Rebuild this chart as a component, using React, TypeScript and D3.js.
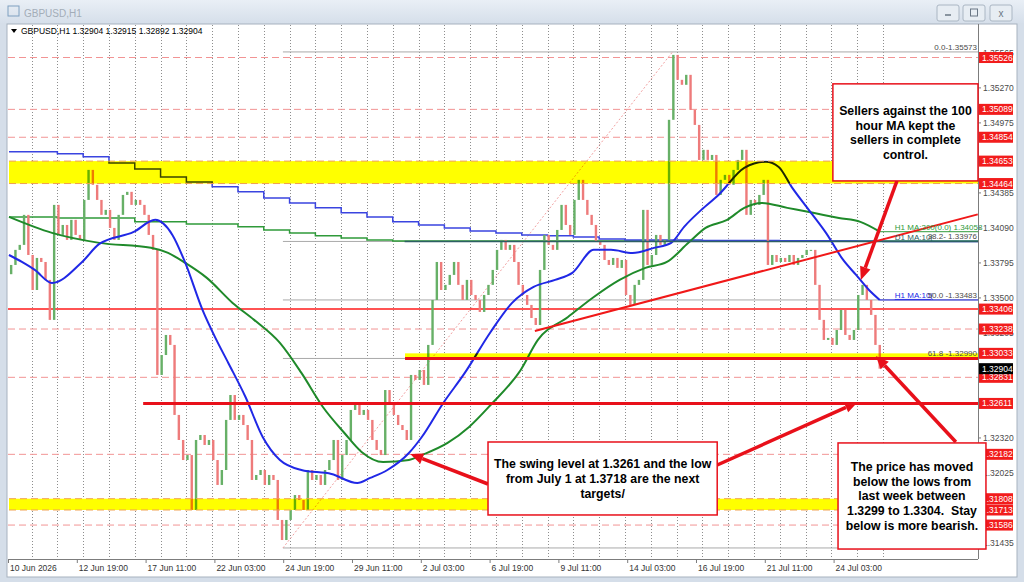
import * as d3 from 'd3'

// 4-hour closes (GBPUSD), first bar 10 Jun 03:00
const closes = [
  1.33778, 1.33905, 1.33947, 1.342, 1.33862, 1.33567, 1.33837, 1.33803, 1.33652, 1.33315,
  1.34284, 1.34031, 1.34115, 1.33989, 1.34158, 1.34031, 1.33989, 1.34326, 1.34579, 1.34453,
  1.34326, 1.342, 1.34242, 1.3409, 1.33989, 1.342, 1.34368, 1.34394, 1.34284, 1.34326,
  1.34284, 1.342, 1.34031, 1.33905, 1.32851, 1.33019, 1.33188, 1.33104, 1.32514, 1.32303,
  1.32134, 1.32176, 1.31713, 1.32303, 1.32345, 1.32261, 1.32303, 1.32134, 1.31924, 1.3205,
  1.32472, 1.32682, 1.32472, 1.32514, 1.32429, 1.32303, 1.31966, 1.32008, 1.3205, 1.31924,
  1.32008, 1.31966, 1.31629, 1.3146, 1.31629, 1.31713, 1.31839, 1.31797, 1.31713, 1.3205,
  1.31966, 1.32008, 1.31924, 1.3205, 1.32134, 1.32303, 1.31966, 1.32176, 1.32303, 1.32556,
  1.32598, 1.32514, 1.32556, 1.32472, 1.32303, 1.32219, 1.32176, 1.32724, 1.32598, 1.32514,
  1.32429, 1.32387, 1.32303, 1.32851, 1.32809, 1.32893, 1.32767, 1.33104, 1.33483, 1.33803,
  1.33567, 1.3361, 1.33694, 1.33803, 1.3361, 1.33483, 1.33652, 1.33525, 1.33483, 1.33382,
  1.33525, 1.3361, 1.33736, 1.33905, 1.33989, 1.33905, 1.33947, 1.33803, 1.3361, 1.33525,
  1.33441, 1.33331, 1.33272, 1.33736, 1.34031, 1.33947, 1.33905, 1.34073, 1.34284, 1.34115,
  1.34031, 1.34326, 1.34495, 1.34326, 1.342, 1.34115, 1.33972, 1.33947, 1.3382, 1.33778,
  1.33837, 1.33753, 1.3382, 1.33525, 1.33441, 1.3361, 1.33652, 1.34242, 1.33778, 1.33862,
  1.34031, 1.33947, 1.33989, 1.35001, 1.35548, 1.35338, 1.35296, 1.3538, 1.35085, 1.34958,
  1.34663, 1.34748, 1.34663, 1.34705, 1.34368, 1.34495, 1.34537, 1.34453, 1.34579, 1.34663,
  1.34748, 1.342, 1.34326, 1.34284, 1.34368, 1.34495, 1.33778, 1.33862, 1.33803, 1.33837,
  1.33803, 1.33862, 1.33778, 1.33837, 1.33862, 1.33905, 1.33905, 1.3361, 1.33315, 1.33146,
  1.33163, 1.33104, 1.3323, 1.33399, 1.33188, 1.33146, 1.3323, 1.33525, 1.3361, 1.33483,
  1.33357, 1.33104, 1.32904,
]
const firstOpen = 1.3370

// [bar, value] samples of the hourly moving averages
const h1Ma100: [number, number][] = [
  [0, 1.33862], [3, 1.33803], [6, 1.33736], [10, 1.33626], [17, 1.33803], [21, 1.33955],
  [29, 1.34056], [34, 1.34158], [38, 1.34031], [41, 1.33795], [45, 1.33399], [48, 1.33163],
  [51, 1.32952], [55, 1.32665], [59, 1.32328], [63, 1.32134], [68, 1.3205], [75, 1.32016],
  [81, 1.3194], [84, 1.31983], [88, 1.3205], [93, 1.32193], [96, 1.32328], [101, 1.32615],
  [106, 1.32868], [112, 1.33213], [117, 1.33458], [122, 1.33593], [127, 1.33652], [131, 1.33711],
  [136, 1.33905], [140, 1.33905], [145, 1.33879], [150, 1.33922], [154, 1.33964], [157, 1.34099],
  [161, 1.34242], [165, 1.34368], [171, 1.34596], [176, 1.34647], [179, 1.34604], [182, 1.34436],
  [186, 1.34242], [190, 1.34048], [194, 1.3382], [197, 1.33694], [200, 1.33567], [202.5, 1.33483],
]
const h1Ma200: [number, number][] = [
  [0, 1.34183], [10, 1.34048], [21, 1.33964], [33, 1.33922], [37, 1.33879], [41, 1.33795],
  [46, 1.33669], [52, 1.33458], [57, 1.33315], [63, 1.33121], [68, 1.32868], [73, 1.32581],
  [78, 1.32362], [82, 1.32202], [87, 1.32117], [93, 1.32134], [96, 1.32176], [102, 1.32278],
  [107, 1.32413], [112, 1.32598], [119, 1.32893], [123, 1.33146], [130, 1.3334], [136, 1.33508],
  [142, 1.33652], [148, 1.33753], [153, 1.33803], [158, 1.33964], [162, 1.3409], [167, 1.34158],
  [171, 1.34259], [175, 1.34301], [181, 1.34259], [187, 1.34217], [193, 1.34174], [198, 1.34141],
  [202.5, 1.34058],
]
// daily moving averages, one value per trading day
const d1Ma100 = [
  1.34731, 1.34731, 1.34714, 1.34689, 1.34638, 1.34587, 1.3452, 1.34478, 1.34436, 1.34394,
  1.34343, 1.34301, 1.34259, 1.34217, 1.34183, 1.34141, 1.34115, 1.3409, 1.34065, 1.34048,
  1.34031, 1.34023, 1.34014, 1.33997, 1.33989, 1.33989, 1.33989, 1.33985, 1.33985, 1.33985,
  1.33982, 1.33982, 1.3398, 1.33978, 1.33976,
]
const d1Ma200 = [
  1.34183, 1.34183, 1.34174, 1.34174, 1.34174, 1.34141, 1.34141, 1.34124, 1.34124, 1.34099,
  1.34073, 1.34048, 1.34023, 1.34006, 1.33989, 1.3398, 1.3398, 1.3398, 1.3398, 1.3398,
  1.3398, 1.3398, 1.3398, 1.3398, 1.3398, 1.3398, 1.3398, 1.3398, 1.3398, 1.3398,
  1.3398, 1.3398, 1.3398, 1.3398, 1.3398,
]

const timeLabels = [
  '10 Jun 2026', '12 Jun 19:00', '17 Jun 11:00', '22 Jun 03:00', '24 Jun 19:00', '29 Jun 11:00',
  '2 Jul 03:00', '6 Jul 19:00', '9 Jul 11:00', '14 Jul 03:00', '16 Jul 19:00', '21 Jul 11:00', '24 Jul 03:00',
]
const priceTicks = [
  1.35565, 1.3527, 1.34975, 1.3468, 1.34385, 1.3409, 1.33795, 1.335, 1.33205, 1.3291, 1.32615,
  1.3232, 1.32025, 1.3173, 1.31435,
]
const redLabels = [
  1.35526, 1.35089, 1.34854, 1.34653, 1.34464, 1.33406, 1.33238, 1.33033, 1.32831, 1.32611,
  1.32182, 1.31808, 1.31713, 1.31586,
]
const lastPrice = 1.32904
const dashedLevels = [1.35526, 1.35089, 1.34854, 1.33238, 1.32831, 1.32182, 1.31586]
// [low, high, first bar]
const bands: [number, number, number][] = [
  [1.34464, 1.34653, 0],
  [1.31713, 1.31808, 0],
  [1.3299, 1.33033, 92.1],
]
// [price, first bar]
const thickLevels: [number, number][] = [[1.32611, 31.2], [1.3299, 92.1]]
const thinLevel = 1.33406
const trendLine: [number, number][] = [[122.3, 1.33222], [225.3, 1.34204]]
const fibStart = 63.7
const fibLow = 1.31393
const fibHighBar = 154.3
const fibLevels: [string, number][] = [['0.0', 1.35573], ['38.2', 1.33976], ['50.0', 1.33483], ['61.8', 1.3299], ['100.0', 1.31393]]

// annotation boxes: [bar0, bar1, priceTop, priceBottom], text lines
const notes: { box: [number, number, number, number]; lines: string[] }[] = [
  { box: [191.6, 225.35, 1.35304, 1.34486], lines: ['Sellers against the 100', 'hour MA kept the', 'sellers in complete', 'control.'] },
  { box: [111.4, 164.7, 1.32286, 1.31671], lines: ['The swing level at 1.3261 and the low', 'from July 1 at 1.3718 are the next', 'targets/'] },
  { box: [192.8, 227.2, 1.32278, 1.31384], lines: ['The price has moved', 'below the lows from', 'last week between', '1.3299 to 1.3304.  Stay', 'below is more bearish.'] },
]
// arrows: from [bar, price] to [bar, price]
const arrows: [number, number, number, number][] = [
  [206.5, 1.34486, 198.1, 1.33652],
  [220.2, 1.32286, 201.6, 1.33011],
  [111.4, 1.31932, 93.3, 1.32185],
  [164.7, 1.32092, 197.4, 1.32623],
]

const W = 1024
const H = 582
const L = 9
const R = 978
const T = 25
const B = 559
const FONT = '"Liberation Sans", Arial, sans-serif'

const x = d3.scaleLinear().domain([0, 225.35]).range([L, R])
const y = d3.scaleLinear().domain([1.313, 1.358]).range([B, T])

const RED = '#e8101a'

function Arrow({ a }: { a: [number, number, number, number] }) {
  const x1 = x(a[0]), y1 = y(a[1]), x2 = x(a[2]), y2 = y(a[3])
  const ang = Math.atan2(y2 - y1, x2 - x1)
  const hl = 13, hw = 5.5
  const bx = x2 - hl * Math.cos(ang), by = y2 - hl * Math.sin(ang)
  const px = -Math.sin(ang) * hw, py = Math.cos(ang) * hw
  return (
    <g>
      <line x1={x1} y1={y1} x2={bx} y2={by} stroke={RED} strokeWidth={3.5} />
      <polygon points={`${x2},${y2} ${bx + px},${by + py} ${bx - px},${by - py}`} fill={RED} />
    </g>
  )
}

export default function App() {
  const h1Line = d3.line<[number, number]>().x(d => x(d[0])).y(d => y(d[1])).curve(d3.curveMonotoneX)
  const stepPts = (vals: number[]): [number, number][] => {
    const pts: [number, number][] = vals.map((v, k) => [k === 0 ? 0 : 5.25 + 6 * (k - 1), v])
    pts.push([225.35, vals[vals.length - 1]])
    return pts
  }
  const stepLine = d3.line<[number, number]>().x(d => x(d[0])).y(d => y(d[1])).curve(d3.curveStepAfter)
  const gridBars = d3.range(0, 34).map(k => 5.25 + 6 * k)
  const bw = 2.4
  // grid prices that a price label hides completely are not drawn
  const shownTicks = priceTicks.filter(p => ![...redLabels, lastPrice].some(q => Math.abs(y(q) - y(p)) < 3.5))

  return (
    <div style={{ position: 'absolute', left: 0, top: 0 }}>
      <svg width={W} height={H} style={{ display: 'block', fontFamily: FONT }}>
        <defs>
          <linearGradient id="title" x1="0" y1="0" x2="0" y2="1">
            <stop offset="0%" stopColor="#e9eff6" />
            <stop offset="100%" stopColor="#d6dfea" />
          </linearGradient>
          <clipPath id="plot">
            <rect x={8} y={T} width={R - 8} height={B - T} />
          </clipPath>
        </defs>

        {/* window frame */}
        <rect x={0} y={0} width={W} height={H} fill="#d5dee9" />
        <rect x={0} y={0} width={W} height={23} fill="url(#title)" />
        <rect x={8} y={6} width={11} height={10} fill="none" stroke="#7fa0c0" />
        <text x={24} y={17} fontSize={10} fill="#a3adb8">GBPUSD,H1</text>
        {[937, 963, 990].map((bx, i) => (
          <g key={i}>
            <rect x={bx} y={5} width={22} height={16} rx={2} fill="#e7edf3" stroke="#aab6c3" />
            {i === 0 && <line x1={bx + 8} y1={15} x2={bx + 14} y2={15} stroke="#6a7785" strokeWidth={1.5} />}
            {i === 1 && <rect x={bx + 7.5} y={9} width={7} height={7} fill="none" stroke="#6a7785" />}
            {i === 2 && <text x={bx + 11} y={17} fontSize={10} textAnchor="middle" fill="#6a7785">x</text>}
          </g>
        ))}
        <rect x={7} y={24} width={1010} height={553} fill="#ffffff" stroke="#a7b2bf" />

        {/* vertical dotted grid */}
        {gridBars.map(b => (
          <line key={b} x1={Math.round(x(b)) + 0.5} x2={Math.round(x(b)) + 0.5} y1={T} y2={B} stroke="#8d8d8d" strokeDasharray="1 2" />
        ))}

        <g clipPath="url(#plot)">
          {dashedLevels.map(p => (
            <line key={p} x1={8} x2={R} y1={y(p)} y2={y(p)} stroke="#f29494" strokeDasharray="7 4" />
          ))}
          {fibLevels.map(([n, p]) => (
            <line key={n} x1={x(fibStart)} x2={R} y1={y(p)} y2={y(p)} stroke="#a9a9a9" />
          ))}
          <line x1={x(fibStart)} y1={y(fibLow)} x2={x(fibHighBar)} y2={y(fibLevels[0][1])} stroke="#f0a0a0" strokeDasharray="2 2" />
          <line x1={8} x2={R} y1={y(thinLevel)} y2={y(thinLevel)} stroke="#ff1a1a" strokeWidth={1.5} />

          {/* daily MAs */}
          <path d={stepLine(stepPts(d1Ma200)) ?? ''} fill="none" stroke="#2f9a3a" strokeWidth={1.5} />
          <path d={stepLine(stepPts(d1Ma100)) ?? ''} fill="none" stroke="#3a44e0" strokeWidth={1.5} />

          {/* candles */}
          {closes.map((c, j) => {
            const o = j === 0 ? firstOpen : closes[j - 1]
            const top = y(Math.max(o, c))
            const h = Math.max(1, Math.abs(y(o) - y(c)))
            return (
              <rect key={j} x={x(j + 0.5) - bw / 2} y={top} width={bw} height={h}
                fill={c >= o ? '#67b067' : '#ee7b7b'} />
            )
          })}

          {/* hourly MAs */}
          <path d={h1Line(h1Ma200) ?? ''} fill="none" stroke="#1f8a2a" strokeWidth={2} />
          <path d={h1Line(h1Ma100) ?? ''} fill="none" stroke="#2028e6" strokeWidth={2} />
          <line x1={x(202.5)} x2={R} y1={y(1.34058)} y2={y(1.34058)} stroke="#2f9a3a" />
          <line x1={x(202.5)} x2={R} y1={y(1.33483)} y2={y(1.33483)} stroke="#2028e6" />
          <line x1={x(92)} x2={R} y1={y(1.33976)} y2={y(1.33976)} stroke="#2d5f64" strokeWidth={1.5} />

          {/* yellow zones */}
          {bands.map(([lo, hi, b0], i) => (
            <rect key={i} x={x(b0)} y={y(hi)} width={R - x(b0)} height={y(lo) - y(hi)}
              fill="#ffff00" style={{ mixBlendMode: 'multiply' }} />
          ))}
          {bands.slice(0, 2).flatMap(([lo, hi, b0], i) => [lo, hi].map(p => (
            <line key={`${i}-${p}`} x1={x(b0)} x2={R} y1={y(p)} y2={y(p)} stroke="#f0a050" strokeDasharray="7 4" />
          )))}

          {thickLevels.map(([p, b0]) => (
            <line key={p} x1={x(b0)} x2={R} y1={y(p)} y2={y(p)} stroke={RED} strokeWidth={3} />
          ))}
          <line x1={x(trendLine[0][0])} y1={y(trendLine[0][1])} x2={x(trendLine[1][0])} y2={y(trendLine[1][1])}
            stroke="#f01818" strokeWidth={2} />
        </g>

        {/* level captions */}
        <g fontSize={8}>
          <text x={x(206)} y={y(1.34058) - 2} fill="#2f9a3a">H1 MA:200(0.0) 1.34058</text>
          <text x={x(206)} y={y(1.33976) - 1.5} fill="#2d5f64">D1 MA:10(</text>
          <text x={x(206)} y={y(1.33483) - 2} fill="#2028e6" textDecoration="underline">H1 MA:10(</text>
          {fibLevels.slice(0, 4).map(([n, p], i) => (
            <text key={n} x={R - 1} y={y(p) - 2} textAnchor="end" fill="#4a4a4a">
              {i === 0 ? `${n}-${p.toFixed(5)}` : i === 1 ? `${n}- ${p.toFixed(5)}` : `${n} -${p.toFixed(5)}`}
            </text>
          ))}
        </g>

        {/* axes */}
        <line x1={R + 0.5} x2={R + 0.5} y1={T - 1} y2={B} stroke="#7c7c7c" />
        <line x1={8} x2={R} y1={B + 0.5} y2={B + 0.5} stroke="#7c7c7c" />
        <g fontSize={8.5} fill="#4a4a4a">
          {priceTicks.map(p => (
            <line key={p} x1={R} x2={R + 3} y1={y(p)} y2={y(p)} stroke="#7c7c7c" />
          ))}
          {shownTicks.map(p => (
            <text key={p} x={R + 5} y={y(p) + 3}>{p.toFixed(5)}</text>
          ))}
          {timeLabels.map((t, k) => (
            <g key={t}>
              <line x1={x(16 * k) - 0.5} x2={x(16 * k) - 0.5} y1={B} y2={B + 4} stroke="#7c7c7c" />
              <text x={x(16 * k) + 1} y={B + 12} fill="#333">{t}</text>
            </g>
          ))}
        </g>
        <g fontSize={8.5}>
          {redLabels.map(p => (
            <g key={p}>
              <rect x={R + 1} y={y(p) - 5.5} width={34} height={11} fill="#f21c1c" />
              <text x={R + 4} y={y(p) + 3} fill="#ffffff">{p.toFixed(5)}</text>
            </g>
          ))}
          <rect x={R + 1} y={y(lastPrice) - 5.5} width={34} height={11} fill="#000000" />
          <text x={R + 4} y={y(lastPrice) + 3} fill="#ffffff">{lastPrice.toFixed(5)}</text>
        </g>

        {/* annotations */}
        {arrows.map((a, i) => <Arrow key={i} a={a} />)}
        {notes.map((n, i) => {
          const x0 = x(n.box[0]), x1 = x(n.box[1]), y0 = y(n.box[2]), y1 = y(n.box[3])
          const cy = (y0 + y1) / 2
          const lh = 14.6
          return (
            <g key={i}>
              <rect x={x0} y={y0} width={x1 - x0} height={y1 - y0} fill="#ffffff" stroke={RED} strokeWidth={1.5} />
              {n.lines.map((s, k) => (
                <text key={k} x={(x0 + x1) / 2} y={cy + (k - (n.lines.length - 1) / 2) * lh + 4.5}
                  textAnchor="middle" fontSize={12.3} fontWeight={700} fill="#000" xmlSpace="preserve">{s}</text>
              ))}
            </g>
          )
        })}

        {/* header */}
        <path d="M11,29 L17,29 L14,33 Z" fill="#000" />
        <text x={21} y={34} fontSize={8.5} fill="#000">GBPUSD,H1  1.32904 1.32915 1.32892 1.32904</text>
      </svg>
    </div>
  )
}
